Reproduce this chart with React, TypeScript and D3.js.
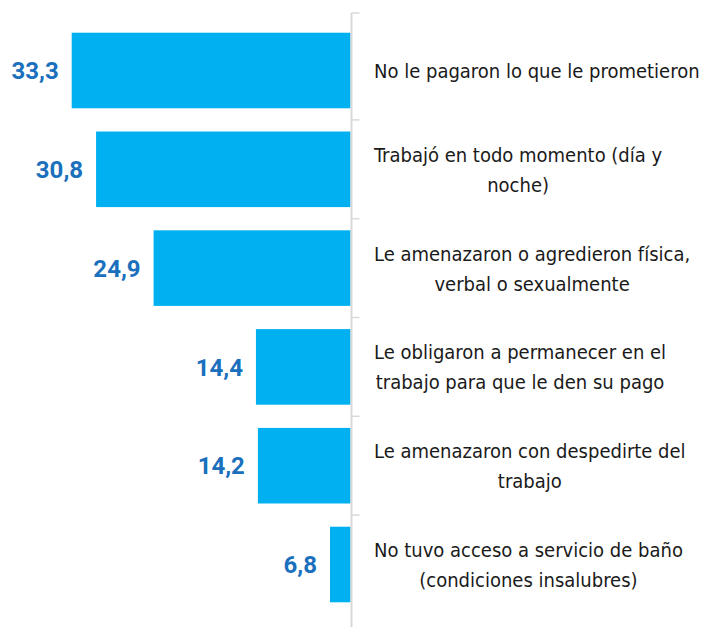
import * as d3 from "d3";
import { useEffect, useRef } from "react";

// chart size and positions
const width = 701;
const height = 627;
const axisX = 350.5;
const labelLeft = 374;

// data
const categories = [
  "No le pagaron lo que le prometieron",
  "Trabajó en todo momento (día y\nnoche)",
  "Le amenazaron o agredieron física,\nverbal o sexualmente",
  "Le obligaron a permanecer en el\ntrabajo para que le den su pago",
  "Le amenazaron con despedirte del\ntrabajo",
  "No tuvo acceso a servicio de baño\n(condiciones insalubres)",
];
const values = [33.3, 30.8, 24.9, 14.4, 14.2, 6.8];

const barColor = "#00b0f0";
const valueColor = "#1a70bd";
const axisColor = "#d9d9d9";

const App = () => {
  const containerRef = useRef<HTMLDivElement>(null);

  useEffect(() => {
    const node = containerRef.current;
    if (!node) return;
    node.innerHTML = "";

    // reversed horizontal axis, bars grow to the left from the axis
    const x = d3.scaleLinear().domain([4.7, 33.3]).range([axisX, 71.7]);

    const y = d3
      .scaleBand()
      .domain(categories)
      .range([21.1, 613.9])
      .paddingInner(0.235)
      .paddingOuter(0.1175);

    const svg = d3
      .create("svg")
      .attr("width", width)
      .attr("height", height)
      .style("position", "absolute")
      .style("left", "0px")
      .style("top", "0px")
      .style("background", "#ffffff");

    node.append(svg.node() as SVGSVGElement);

    // bars
    svg
      .append("g")
      .selectAll("rect")
      .data(values)
      .join("rect")
      .attr("x", (d) => x(d))
      .attr("y", (_, i) => y(categories[i])!)
      .attr("width", (d) => axisX - x(d))
      .attr("height", y.bandwidth())
      .attr("fill", barColor);

    // value labels
    const fmt = d3.format(".1f");
    svg
      .append("g")
      .selectAll("text")
      .data(values)
      .join("text")
      .attr("x", (d) => x(d) - 13)
      .attr("y", (_, i) => y(categories[i])! + y.bandwidth() / 2)
      .attr("dy", "0.36em")
      .attr("text-anchor", "end")
      .attr("font-family", "Roboto, sans-serif")
      .attr("font-weight", 700)
      .attr("font-size", 24)
      .attr("fill", valueColor)
      .text((d) => fmt(d).replace(".", ","));

    // vertical axis with ticks between categories
    const step = y.step();
    const tickYs = [13, ...categories.slice(1).map((c) => y(c)! - (step - y.bandwidth()) / 2)];
    const axis = svg.append("g");
    axis
      .append("line")
      .attr("x1", axisX + 1)
      .attr("x2", axisX + 1)
      .attr("y1", 13)
      .attr("y2", height)
      .attr("stroke", axisColor)
      .attr("stroke-width", 2);
    axis
      .selectAll("line.tick")
      .data(tickYs)
      .join("line")
      .attr("class", "tick")
      .attr("x1", axisX + 1)
      .attr("x2", axisX + 9)
      .attr("y1", (d) => d)
      .attr("y2", (d) => d)
      .attr("stroke", axisColor)
      .attr("stroke-width", 1.5);

    // category labels, centred on their widest line
    const lineHeight = 30;
    const capHalf = 7.5;
    categories.forEach((cat) => {
      const lines = cat.split("\n");
      const cy = y(cat)! + y.bandwidth() / 2;
      const t = svg
        .append("text")
        .attr("font-family", "'Liberation Sans Narrow', 'DejaVu Sans Condensed', Roboto, sans-serif")
        .attr("font-size", 20)
        .attr("fill", "#1a1a1a")
        .attr("text-anchor", "middle");
      const first = cy - ((lines.length - 1) * lineHeight) / 2 + capHalf;
      const spans = lines.map((ln, k) =>
        t.append("tspan").attr("y", first + k * lineHeight).text(ln)
      );
      const w = d3.max(spans, (s) => (s.node() as SVGTSpanElement).getComputedTextLength()) ?? 0;
      spans.forEach((s) => s.attr("x", labelLeft + w / 2));
    });
  }, []);

  return <div ref={containerRef}></div>;
};

export default App;
